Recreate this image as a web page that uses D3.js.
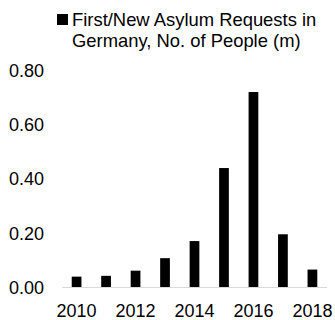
<!DOCTYPE html>
<html>
<head>
	<meta charset="utf-8">
	<script src="https://d3js.org/d3.v7.min.js"></script>
	<style type="text/css">
		body { margin: 0; background: #fff; }
		text { font-family: "Liberation Sans", Arial, sans-serif; fill: #000; }
	</style>
</head>
<body>
<script>
    // data
    var years = ["2010","2011","2012","2013","2014","2015","2016","2017","2018"];
    var requests = [0.040, 0.043, 0.062, 0.108, 0.171, 0.440, 0.720, 0.196, 0.066];
    var yTicks = [0, 0.2, 0.4, 0.6, 0.8];
    var xLabels = ["2010","2012","2014","2016","2018"];
    var seriesName = ["First/New Asylum Requests in", "Germany, No. of People (m)"];

    var width = 335, height = 320;

    var svg = d3.select("body")
        .append("svg")
        .attr("width", width)
        .attr("height", height);

    var x = d3.scaleBand()
        .domain(years)
        .range([62, 327])
        .paddingInner(0.67)
        .paddingOuter(0.33);

    var y = d3.scaleLinear()
        .domain([0, 0.8])
        .range([287.5, 70.3]);

    // y tick labels
    svg.selectAll(".ylab")
        .data(yTicks)
        .enter().append("text")
        .attr("class", "ylab")
        .attr("x", 44)
        .attr("y", function(d) { return y(d); })
        .attr("dy", "0.35em")
        .attr("text-anchor", "end")
        .style("font-size", "18px")
        .text(function(d) { return d3.format(".2f")(d); });

    // bars
    svg.selectAll("rect.bar")
        .data(requests)
        .enter().append("rect")
        .attr("class", "bar")
        .attr("x", function(d, i) { return x(years[i]); })
        .attr("width", x.bandwidth())
        .attr("y", function(d) { return y(d); })
        .attr("height", function(d) { return y(0) - y(d); })
        .attr("fill", "#000");

    // baseline
    svg.append("line")
        .attr("x1", 62).attr("x2", 327)
        .attr("y1", y(0)).attr("y2", y(0))
        .attr("stroke", "#d9d9d9")
        .attr("stroke-width", 1);

    // x labels
    svg.selectAll(".xlab")
        .data(xLabels)
        .enter().append("text")
        .attr("class", "xlab")
        .attr("x", function(d) { return x(d) + x.bandwidth() / 2; })
        .attr("y", 317)
        .attr("text-anchor", "middle")
        .style("font-size", "18px")
        .text(function(d) { return d; });

    // legend
    svg.append("rect")
        .attr("x", 57).attr("y", 14)
        .attr("width", 11).attr("height", 11)
        .attr("fill", "#000");

    svg.selectAll(".leg")
        .data(seriesName)
        .enter().append("text")
        .attr("class", "leg")
        .attr("x", 72)
        .attr("y", function(d, i) { return 25.5 + i * 21; })
        .style("font-size", "18.4px")
        .text(function(d) { return d; });
</script>
</body>
</html>
